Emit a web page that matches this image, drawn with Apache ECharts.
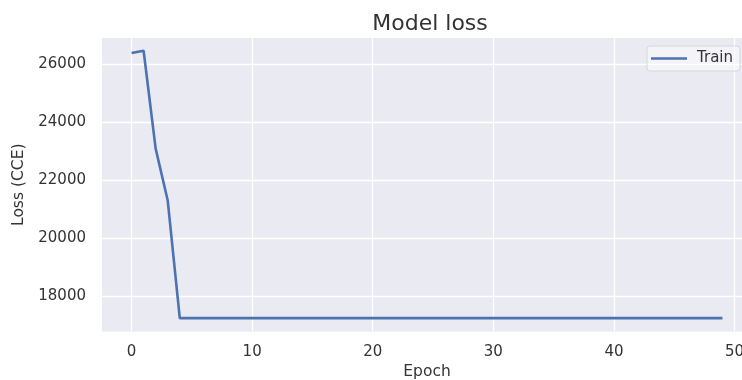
<!DOCTYPE html>
<html>
<head>
<meta charset="utf-8">
<script src="https://cdn.jsdelivr.net/npm/echarts@6/dist/echarts.min.js"></script>
<style>html,body{margin:0;padding:0;background:#fff}#c{width:742px;height:380px}</style>
</head>
<body>
<div id="c"></div>
<script>
const epochs = [0,1,2,3,4,5,6,7,8,9,10,11,12,13,14,15,16,17,18,19,20,21,22,23,24,25,26,27,28,29,30,31,32,33,34,35,36,37,38,39,40,41,42,43,44,45,46,47,48,49];
const trainLoss = [26380,26460,23090,21300,17250,17250,17250,17250,17250,17250,17250,17250,17250,17250,17250,17250,17250,17250,17250,17250,17250,17250,17250,17250,17250,17250,17250,17250,17250,17250,17250,17250,17250,17250,17250,17250,17250,17250,17250,17250,17250,17250,17250,17250,17250,17250,17250,17250,17250,17250];
const xTicks = [0,10,20,30,40,50];
const yTicks = [18000,20000,22000,24000,26000];

const font = 'DejaVu Sans';
const txt = '#333333';
const chart = echarts.init(document.getElementById('c'), null, {renderer:'canvas'});
chart.setOption({
  animation:false,
  backgroundColor:'#ffffff',
  title:{text:'Model loss', left:425, top:8, textAlign:'center',
    textStyle:{fontFamily:font, fontSize:22, fontWeight:'normal', color:txt}},
  legend:{data:['Train'], left:647, top:46, icon:'rect', itemWidth:36, itemHeight:2.5,
    padding:[5,7,5,4], backgroundColor:'rgba(255,255,255,0.45)', borderColor:'#d6d6de', borderWidth:1, borderRadius:3,
    textStyle:{fontFamily:font, fontSize:15, color:txt, padding:[0,0,0,5]}},
  grid:{left:102, top:38, width:650, height:293.5, show:true, backgroundColor:'#EAEAF2', borderWidth:0, outerBoundsMode:'none', containLabel:false},
  xAxis:{type:'value', min:-2.45, max:51.45, name:'Epoch', nameLocation:'middle', nameGap:32,
    nameTextStyle:{fontFamily:font, fontSize:15.5, color:txt},
    axisLine:{show:false}, axisTick:{show:false, customValues:xTicks},
    axisLabel:{customValues:xTicks, fontFamily:font, fontSize:15, color:txt, margin:13, formatter:v=>String(v)},
    splitLine:{show:true, lineStyle:{color:'#ffffff', width:1.3}}},
  yAxis:{type:'value', min:16790, max:26900, name:'Loss (CCE)', nameLocation:'middle', nameGap:74,
    nameTextStyle:{fontFamily:font, fontSize:15.5, color:txt},
    axisLine:{show:false}, axisTick:{show:false, customValues:yTicks},
    axisLabel:{customValues:yTicks, fontFamily:font, fontSize:15, color:txt, margin:16, formatter:v=>String(v)},
    splitLine:{show:true, lineStyle:{color:'#ffffff', width:1.3}}},
  series:[{name:'Train', type:'line', data:epochs.map((e,i)=>[e,trainLoss[i]]), showSymbol:false,
    lineStyle:{color:'#4C72B0', width:2.6}, itemStyle:{color:'#4C72B0'}}]
});
</script>
</body>
</html>
